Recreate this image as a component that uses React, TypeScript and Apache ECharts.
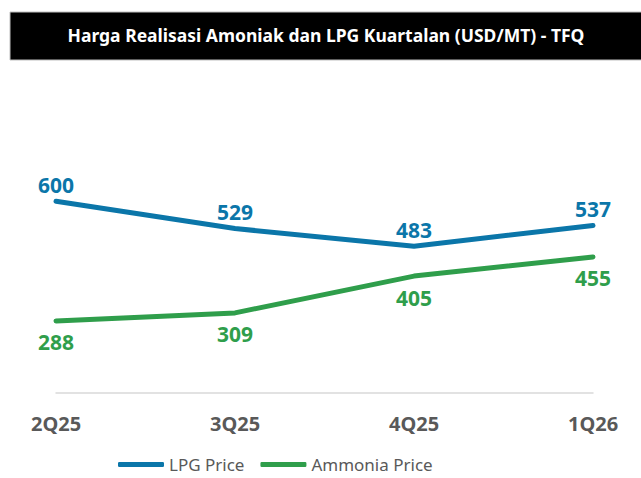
import React, { useEffect, useRef } from "react";
import * as echarts from "echarts";

const categories = ["2Q25", "3Q25", "4Q25", "1Q26"];
const lpgPrice = [600, 529, 483, 537];
const ammoniaPrice = [288, 309, 405, 455];
const titleText = "Harga Realisasi Amoniak dan LPG Kuartalan (USD/MT) - TFQ";

const FONT = "'Noto Sans', 'Open Sans', sans-serif";
const BLUE = "#0b76a9";
const GREEN = "#2f9e4b";
const GREY = "#595959";

export default function App() {
  const ref = useRef<HTMLDivElement>(null);
  useEffect(() => {
    document.body.style.margin = "0";
    const chart = echarts.init(ref.current!, undefined, { renderer: "svg" });
    chart.setOption({
      animation: false,
      backgroundColor: "#ffffff",
      textStyle: { fontFamily: FONT },
      graphic: [
        {
          type: "rect",
          shape: { x: 10, y: 12, width: 640, height: 48 },
          style: { fill: "#000000", stroke: "#bfbfbf", lineWidth: 1 },
        },
        {
          type: "text",
          x: 326,
          y: 35,
          style: {
            text: titleText,
            fill: "#ffffff",
            fontFamily: FONT,
            fontWeight: "bold",
            fontSize: 17.5,
            align: "center",
            verticalAlign: "middle",
          },
        },
      ],
      grid: { left: 56, right: 48, top: 163, bottom: 85 },
      legend: {
        bottom: 0,
        left: 113,
        itemWidth: 46,
        itemHeight: 5,
        itemGap: 16,
        icon: "roundRect",
        textStyle: { color: GREY, fontSize: 17, fontFamily: FONT },
        data: ["LPG Price", "Ammonia Price"],
      },
      xAxis: {
        type: "category",
        data: categories,
        boundaryGap: false,
        axisLine: { show: true, lineStyle: { color: "#d9d9d9", width: 1.5 } },
        axisTick: { show: false },
        axisLabel: {
          color: GREY,
          fontWeight: "bold",
          fontSize: 20,
          fontFamily: FONT,
          margin: 20,
        },
      },
      yAxis: {
        type: "value",
        min: 100,
        max: 700,
        show: false,
        splitLine: { show: false },
      },
      series: [
        {
          name: "LPG Price",
          type: "line",
          data: lpgPrice,
          symbol: "circle",
          symbolSize: 0.1,
          showSymbol: true,
          lineStyle: { color: BLUE, width: 5, cap: "round" },
          itemStyle: { color: BLUE },
          label: {
            show: true,
            position: "top",
            distance: 6,
            color: BLUE,
            fontWeight: "bold",
            fontSize: 21,
            fontFamily: FONT,
          },
        },
        {
          name: "Ammonia Price",
          type: "line",
          data: ammoniaPrice,
          symbol: "circle",
          symbolSize: 0.1,
          showSymbol: true,
          lineStyle: { color: GREEN, width: 5, cap: "round" },
          itemStyle: { color: GREEN },
          label: {
            show: true,
            position: "bottom",
            distance: 11,
            color: GREEN,
            fontWeight: "bold",
            fontSize: 21,
            fontFamily: FONT,
          },
        },
      ],
    });
    return () => chart.dispose();
  }, []);
  return <div ref={ref} style={{ width: 641, height: 478 }} />;
}
